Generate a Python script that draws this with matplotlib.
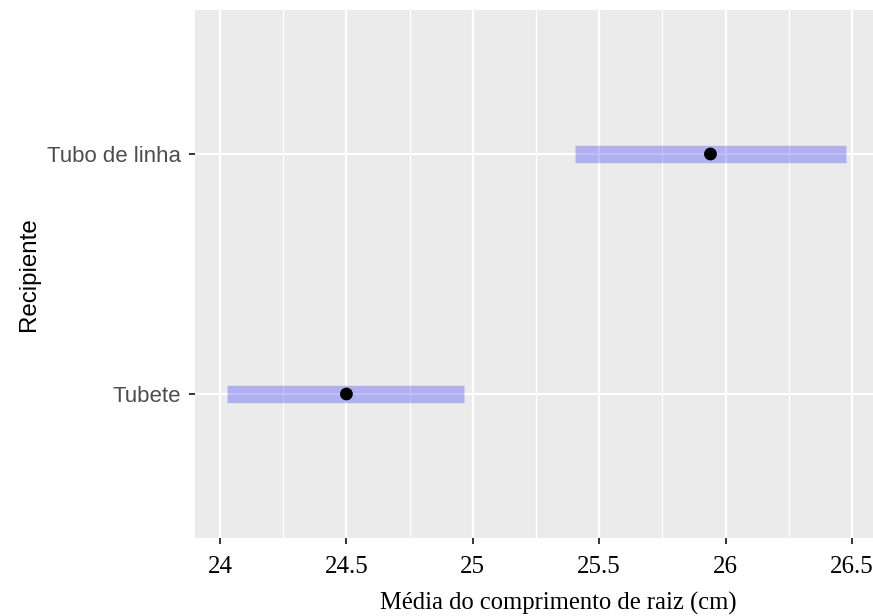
import matplotlib.pyplot as plt
from matplotlib.ticker import MultipleLocator

# data
recipientes = ['Tubete', 'Tubo de linha']
medias = [24.50, 25.94]
lim_inf = [24.026, 25.405]
lim_sup = [24.967, 26.475]

fig = plt.figure(figsize=(8.73, 6.16), dpi=100)
ax = fig.add_axes([195/873, (616-538)/616, (873-195)/873, (538-10)/616])
ax.set_facecolor('#EBEBEB')

ypos = list(range(1, len(recipientes) + 1))

# barras do intervalo
for y, lo, hi in zip(ypos, lim_inf, lim_sup):
    ax.plot([lo, hi], [y, y], color=(0, 0, 1, 0.25), lw=12.5, solid_capstyle='butt', zorder=3)
ax.scatter(medias, ypos, color='black', s=85, zorder=4, edgecolors='none')

ax.set_xlim(23.901, 26.583)
ax.set_ylim(0.4, 2.6)

ax.xaxis.set_minor_locator(MultipleLocator(0.25))
ax.set_xticks([24, 24.5, 25, 25.5, 26, 26.5])
ax.set_xticklabels(['24', '24.5', '25', '25.5', '26', '26.5'],
                   family='Liberation Serif', fontsize=18, color='black')
ax.set_yticks(ypos)
ax.set_yticklabels(recipientes, family='Liberation Sans', fontsize=16, color='#4D4D4D')

ax.grid(which='major', color='white', lw=1.6, zorder=1)
ax.grid(which='minor', axis='x', color='white', lw=0.9, zorder=1)
ax.set_axisbelow(True)
for s in ax.spines.values():
    s.set_visible(False)
ax.tick_params(which='major', length=4, width=1.4, color='#333333', pad=6)
ax.tick_params(which='minor', length=0)
ax.tick_params(axis='x', pad=9)

ax.set_ylabel('Recipiente', family='Liberation Sans', fontsize=17.4, color='black', labelpad=5)
fig.text(558/873, (616-610)/616, 'Média do comprimento de raiz (cm)', ha='center', va='baseline',
         family='Liberation Serif', fontsize=17.7, color='black')

fig.savefig('out.png', dpi=100)
